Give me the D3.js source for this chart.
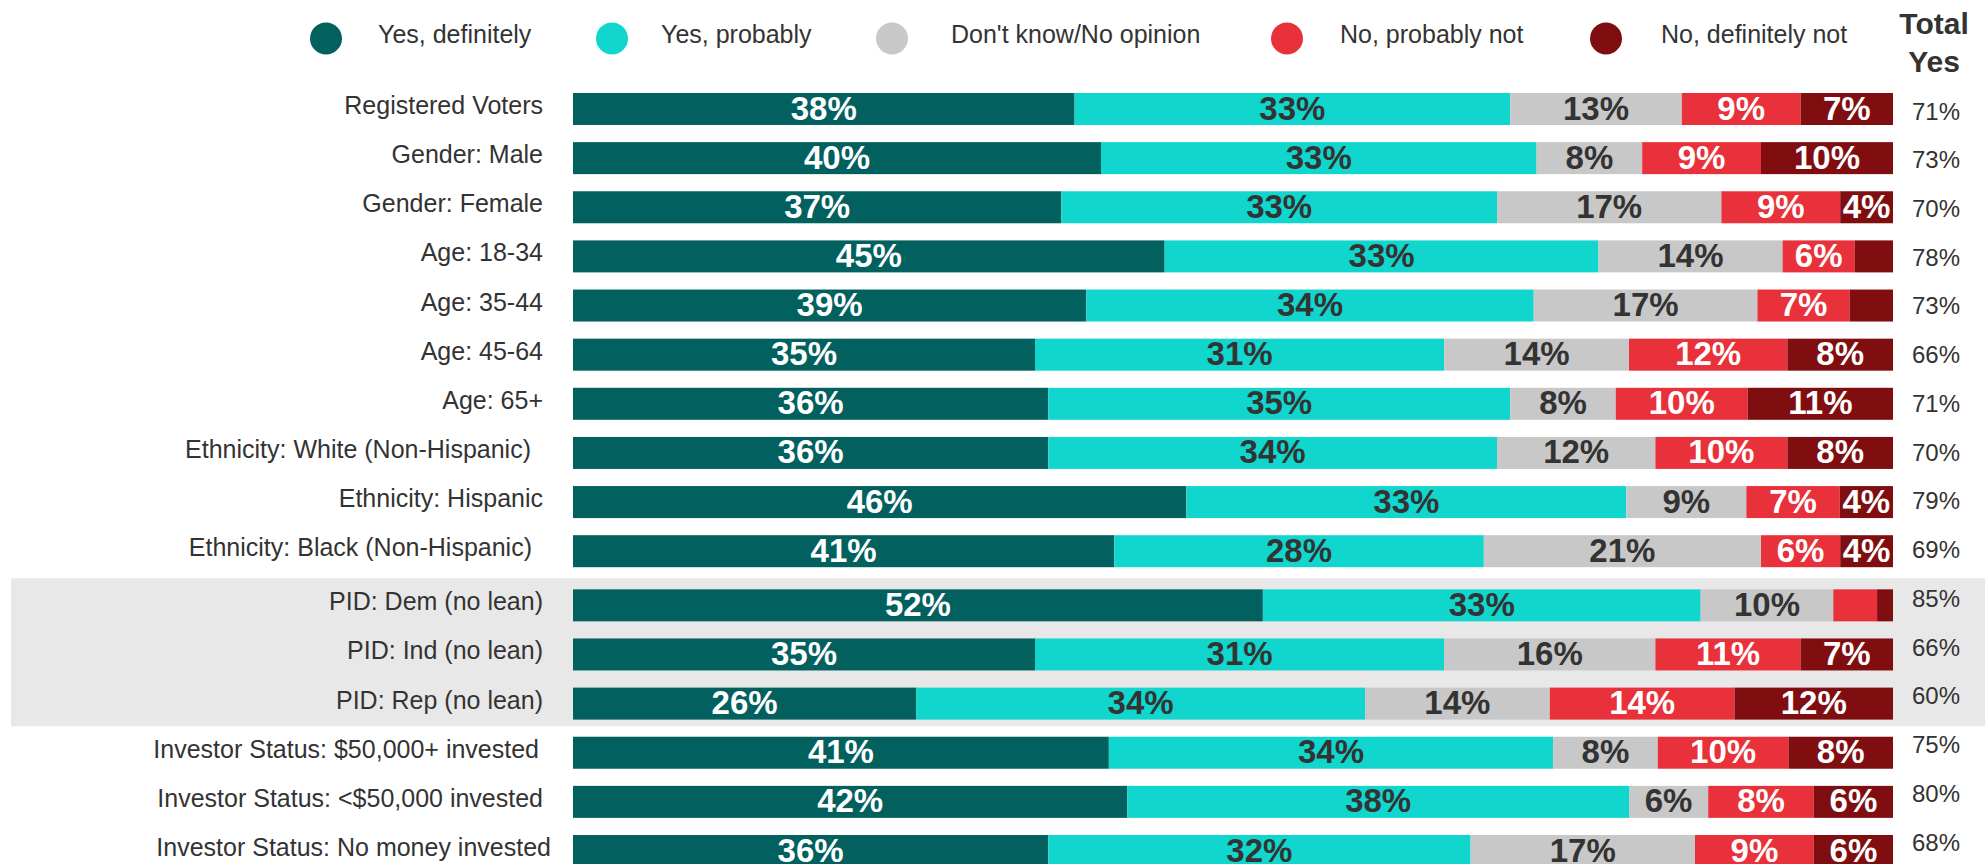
<!DOCTYPE html>
<html>
<head>
<meta charset="utf-8">
<script src="https://cdn.jsdelivr.net/npm/d3@7"></script>
<style>
  html, body { margin: 0; padding: 0; background: #ffffff; }
  svg { display: block; font-family: "Liberation Sans", Arial, sans-serif; }
</style>
</head>
<body>
<svg id="chart" width="1985" height="864"></svg>
<script>
// ---- data ----
const categories = [
  "Registered Voters",
  "Gender: Male",
  "Gender: Female",
  "Age: 18-34",
  "Age: 35-44",
  "Age: 45-64",
  "Age: 65+",
  "Ethnicity: White (Non-Hispanic)",
  "Ethnicity: Hispanic",
  "Ethnicity: Black (Non-Hispanic)",
  "PID: Dem (no lean)",
  "PID: Ind (no lean)",
  "PID: Rep (no lean)",
  "Investor Status: $50,000+ invested",
  "Investor Status: <$50,000 invested",
  "Investor Status: No money invested"
];
const seriesNames = ["Yes, definitely", "Yes, probably", "Don't know/No opinion", "No, probably not", "No, definitely not"];
const yesDefinitely = [38, 40, 37, 45, 39, 35, 36, 36, 46, 41, 52, 35, 26, 41, 42, 36];
const yesProbably   = [33, 33, 33, 33, 34, 31, 35, 34, 33, 28, 33, 31, 34, 34, 38, 32];
const dontKnow      = [13,  8, 17, 14, 17, 14,  8, 12,  9, 21, 10, 16, 14,  8,  6, 17];
const noProbably    = [ 9,  9,  9, 5.5, 7, 12, 10, 10,  7,  6, 3.3, 11, 14, 10,  8,  9];
const noDefinitely  = [ 7, 10,  4, 2.9, 3.3, 8, 11,  8,  4,  4, 1.2,  7, 12,  8,  6,  6];
const totalYes      = [71, 73, 70, 78, 73, 66, 71, 70, 79, 69, 85, 66, 60, 75, 80, 68];
const highlightedGroup = ["PID: Dem (no lean)", "PID: Ind (no lean)", "PID: Rep (no lean)"];
const totalHeader = ["Total", "Yes"];

// ---- style / layout ----
const colors = ["#02605F", "#10D6CD", "#C8C8C8", "#E8313A", "#800E11"];
const labelColors = ["#ffffff", "#333333", "#333333", "#ffffff", "#ffffff"];
const legendCircleX = [326, 612, 892, 1287, 1606];
const legendTextX = [378, 661, 951, 1340, 1661];
const rowLabelShift = [0, 0, 0, 0, 0, 0, 0, -12, 0, -11, 0, 0, 0, -4, 0, 8];

const svg = d3.select("#chart");
const seriesArrays = [yesDefinitely, yesProbably, dontKnow, noProbably, noDefinitely];
const keys = d3.range(seriesNames.length);
const rows = categories.map((c, i) => {
  const r = { cat: c, i: i };
  keys.forEach(k => r[k] = seriesArrays[k][i]);
  return r;
});

const stack = d3.stack().keys(keys).offset(d3.stackOffsetExpand);
const stacked = stack(rows);

const x = d3.scaleLinear().domain([0, 1]).range([573, 1893]);
const groupGap = 5;
const yBase = d3.scalePoint().domain(categories).range([109, 846]);
const firstGroupIdx = categories.indexOf(highlightedGroup[0]);
const y = c => yBase(c) + (categories.indexOf(c) >= firstGroupIdx ? groupGap : 0);
const yTot = d3.scalePoint().domain(categories).range([111, 842]);
const barH = 32;

// highlighted band
const gFirst = highlightedGroup[0], gLast = highlightedGroup[highlightedGroup.length - 1];
const before = categories[categories.indexOf(gFirst) - 1];
const after = categories[categories.indexOf(gLast) + 1];
const bandTop = (y(before) + y(gFirst)) / 2;
const bandBot = (y(gLast) + y(after)) / 2 - 2;
svg.append("rect")
  .attr("x", 11).attr("y", bandTop)
  .attr("width", 1985 - 11).attr("height", bandBot - bandTop)
  .attr("fill", "#E8E8E8");

// legend
const legend = svg.append("g");
seriesNames.forEach((name, k) => {
  legend.append("circle")
    .attr("cx", legendCircleX[k]).attr("cy", 38.5).attr("r", 16)
    .attr("fill", colors[k]);
  legend.append("text")
    .attr("x", legendTextX[k]).attr("y", 43)
    .attr("font-size", 25).attr("fill", "#333333")
    .text(name);
});

// header
svg.append("text")
  .attr("x", 1934).attr("text-anchor", "middle")
  .attr("font-size", 30).attr("font-weight", "bold").attr("fill", "#333333")
  .selectAll("tspan").data(totalHeader).join("tspan")
  .attr("x", 1934).attr("y", (d, i) => 34 + i * 38)
  .text(d => d);

// row labels
svg.append("g").selectAll("text").data(categories).join("text")
  .attr("x", (d, i) => 543 + rowLabelShift[i]).attr("y", d => y(d) + 5)
  .attr("text-anchor", "end").attr("font-size", 25).attr("fill", "#333333")
  .text(d => d);

// bars
const layers = svg.append("g").selectAll("g").data(stacked).join("g")
  .attr("fill", d => colors[d.key]);
layers.selectAll("rect").data(d => d).join("rect")
  .attr("x", d => x(d[0]))
  .attr("y", d => y(d.data.cat) - barH / 2)
  .attr("width", d => x(d[1]) - x(d[0]))
  .attr("height", barH);

// value labels
const lab = svg.append("g");
stacked.forEach(layer => {
  lab.selectAll(null).data(layer.filter(d => d.data[layer.key] >= 3.5)).join("text")
    .attr("x", d => (x(d[0]) + x(d[1])) / 2)
    .attr("y", d => y(d.data.cat) + 10.5)
    .attr("text-anchor", "middle")
    .attr("font-size", 33).attr("font-weight", "bold")
    .attr("fill", labelColors[layer.key])
    .text(d => Math.round(d.data[layer.key]) + "%");
});

// total yes column
svg.append("g").selectAll("text").data(categories).join("text")
  .attr("x", 1936).attr("y", d => yTot(d) + 8.5)
  .attr("text-anchor", "middle").attr("font-size", 24).attr("fill", "#333333")
  .text((d, i) => totalYes[i] + "%");
</script>
</body>
</html>
